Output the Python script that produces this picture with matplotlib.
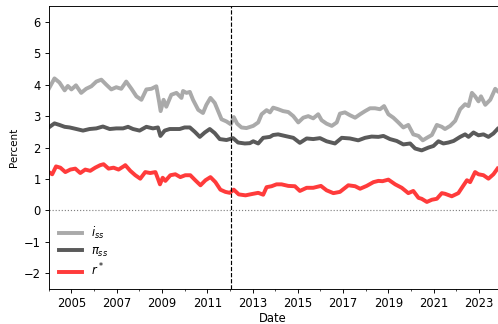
import matplotlib
matplotlib.use("Agg")
import matplotlib.pyplot as plt
import numpy as np

# i_ss (light gray)
t_i = [2004.0, 2004.25, 2004.47, 2004.7, 2004.84, 2005.0, 2005.2, 2005.43, 2005.65, 2005.88,
       2006.1, 2006.32, 2006.54, 2006.76, 2006.98, 2007.2, 2007.42, 2007.65, 2007.87, 2008.09,
       2008.31, 2008.53, 2008.75, 2008.87, 2008.94, 2009.07, 2009.19, 2009.41, 2009.64, 2009.86,
       2009.93, 2010.08, 2010.23, 2010.37, 2010.6, 2010.81, 2010.96, 2011.14, 2011.33, 2011.48,
       2011.63, 2011.85, 2012.04, 2012.17, 2012.32, 2012.51, 2012.73, 2013.03, 2013.25, 2013.4,
       2013.62, 2013.77, 2013.91, 2014.13, 2014.35, 2014.58, 2014.8, 2015.02, 2015.24, 2015.46,
       2015.68, 2015.9, 2016.05, 2016.27, 2016.5, 2016.72, 2016.86, 2017.08, 2017.3, 2017.53,
       2017.75, 2017.97, 2018.19, 2018.41, 2018.63, 2018.81, 2019.0, 2019.22, 2019.44, 2019.66,
       2019.88, 2020.1, 2020.33, 2020.52, 2020.7, 2020.92, 2021.14, 2021.36, 2021.5, 2021.73,
       2021.95, 2022.17, 2022.39, 2022.54, 2022.69, 2022.83, 2022.98, 2023.09, 2023.28, 2023.5,
       2023.72, 2023.82]
i_ss = [3.87, 4.2, 4.07, 3.82, 3.96, 3.85, 3.98, 3.74, 3.87, 3.95,
        4.1, 4.16, 4.0, 3.85, 3.92, 3.87, 4.1, 3.87, 3.63, 3.52,
        3.85, 3.87, 3.95, 3.47, 3.16, 3.52, 3.3, 3.68, 3.74, 3.58,
        3.8, 3.74, 3.77, 3.52, 3.2, 3.1, 3.36, 3.58, 3.42, 3.16,
        2.9, 2.83, 2.74, 2.97, 2.76, 2.64, 2.62, 2.69, 2.8, 3.06,
        3.19, 3.12, 3.27, 3.22, 3.16, 3.13, 3.0, 2.8, 2.95, 3.0,
        2.93, 3.06, 2.87, 2.76, 2.69, 2.8, 3.08, 3.12, 3.03, 2.95,
        3.06, 3.16, 3.25, 3.25, 3.22, 3.32, 3.06, 2.95, 2.8, 2.64,
        2.72, 2.42, 2.37, 2.23, 2.31, 2.4, 2.72, 2.66, 2.59, 2.69,
        2.85, 3.22, 3.38, 3.32, 3.74, 3.63, 3.47, 3.63, 3.36, 3.52,
        3.87, 3.8]

# pi_ss (dark gray)
t_pi = [2004.0, 2004.25, 2004.47, 2004.7, 2004.92, 2005.22, 2005.51, 2005.8, 2006.1, 2006.39,
        2006.69, 2006.98, 2007.28, 2007.5, 2007.72, 2008.01, 2008.31, 2008.6, 2008.82, 2008.93,
        2009.12, 2009.34, 2009.56, 2009.78, 2010.0, 2010.23, 2010.45, 2010.67, 2010.89, 2011.11,
        2011.33, 2011.55, 2011.85, 2012.14, 2012.36, 2012.66, 2012.88, 2013.03, 2013.25, 2013.47,
        2013.77, 2013.91, 2014.13, 2014.43, 2014.8, 2015.09, 2015.39, 2015.68, 2015.98, 2016.27,
        2016.64, 2016.94, 2017.3, 2017.67, 2017.97, 2018.26, 2018.56, 2018.78, 2019.07, 2019.37,
        2019.66, 2019.96, 2020.18, 2020.47, 2020.77, 2020.99, 2021.21, 2021.43, 2021.65, 2021.88,
        2022.17, 2022.39, 2022.54, 2022.76, 2022.98, 2023.2, 2023.42, 2023.64, 2023.82]
pi_ss = [2.64, 2.77, 2.72, 2.66, 2.64, 2.59, 2.54, 2.59, 2.61, 2.67,
         2.59, 2.61, 2.61, 2.66, 2.59, 2.54, 2.66, 2.61, 2.64, 2.37,
         2.54, 2.59, 2.59, 2.59, 2.64, 2.64, 2.5, 2.34, 2.48, 2.59,
         2.46, 2.27, 2.24, 2.3, 2.16, 2.13, 2.14, 2.2, 2.13, 2.31,
         2.34, 2.4, 2.42, 2.37, 2.31, 2.15, 2.29, 2.27, 2.3, 2.2,
         2.13, 2.31, 2.29, 2.23, 2.31, 2.35, 2.34, 2.37, 2.27, 2.21,
         2.1, 2.13, 1.97, 1.91, 2.0, 2.05, 2.2, 2.13, 2.16, 2.21,
         2.34, 2.42, 2.34, 2.48, 2.39, 2.42, 2.34, 2.45, 2.59]

# r* (red)
t_r = [2004.0, 2004.15, 2004.32, 2004.51, 2004.73, 2004.95, 2005.17, 2005.39, 2005.61, 2005.83,
       2006.05, 2006.27, 2006.42, 2006.64, 2006.86, 2007.08, 2007.3, 2007.38, 2007.6, 2007.82,
       2008.04, 2008.26, 2008.48, 2008.71, 2008.82, 2008.91, 2009.03, 2009.15, 2009.37, 2009.59,
       2009.81, 2010.03, 2010.25, 2010.47, 2010.7, 2010.92, 2011.14, 2011.36, 2011.58, 2011.8,
       2011.99, 2012.17, 2012.39, 2012.69, 2012.96, 2013.25, 2013.47, 2013.62, 2013.84, 2014.06,
       2014.28, 2014.58, 2014.87, 2015.09, 2015.39, 2015.68, 2016.02, 2016.27, 2016.57, 2016.86,
       2017.23, 2017.53, 2017.75, 2018.04, 2018.34, 2018.56, 2018.74, 2019.0, 2019.3, 2019.59,
       2019.88, 2020.1, 2020.33, 2020.47, 2020.7, 2020.92, 2021.14, 2021.36, 2021.5, 2021.8,
       2022.09, 2022.32, 2022.47, 2022.61, 2022.83, 2022.98, 2023.2, 2023.42, 2023.64, 2023.82]
r_star = [1.22, 1.15, 1.4, 1.36, 1.22, 1.3, 1.33, 1.19, 1.3, 1.26,
          1.36, 1.44, 1.47, 1.33, 1.36, 1.3, 1.4, 1.44, 1.26, 1.12,
          1.01, 1.22, 1.19, 1.22, 1.01, 0.83, 1.04, 0.94, 1.12, 1.15,
          1.06, 1.12, 1.12, 0.96, 0.8, 0.96, 1.06, 0.9, 0.66, 0.59,
          0.56, 0.66, 0.51, 0.48, 0.52, 0.56, 0.5, 0.74, 0.77, 0.83,
          0.83, 0.78, 0.77, 0.62, 0.72, 0.72, 0.78, 0.64, 0.55, 0.59,
          0.8, 0.77, 0.69, 0.78, 0.9, 0.94, 0.93, 0.98, 0.83, 0.72,
          0.55, 0.62, 0.4, 0.37, 0.27, 0.34, 0.37, 0.55, 0.53, 0.45,
          0.55, 0.8, 0.96, 0.9, 1.22, 1.15, 1.12, 1.01, 1.15, 1.33]

break_year = 2012.04
x_ticks = list(range(2005, 2024, 2))

fig = plt.figure(figsize=(6.0, 3.904), dpi=83)
ax = fig.add_axes([0.098, 0.108, 0.901, 0.873])
ax.plot(t_i, i_ss, color="#aaaaaa", lw=3.4, label=r"$i_{ss}$")
ax.plot(t_pi, pi_ss, color="#5a5a5a", lw=3.4, label=r"$\pi_{ss}$")
ax.plot(t_r, r_star, color="#ff3b3b", lw=3.4, label=r"$r^*$")
ax.axhline(0, color="gray", lw=1, ls=":")
ax.axvline(break_year, color="black", lw=1, ls="--")
ax.set_xlim(2004.0, 2023.82)
ax.set_ylim(-2.5, 6.5)
ax.set_xticks(x_ticks)
ax.set_xticks(range(2004, 2024), minor=True)
ax.set_ylabel("Percent", fontsize=9)
ax.set_xlabel("Date", labelpad=2)
ax.legend(loc="lower left", frameon=False, labelspacing=0.3, fontsize=10)
fig.savefig("out.png", dpi=83)
